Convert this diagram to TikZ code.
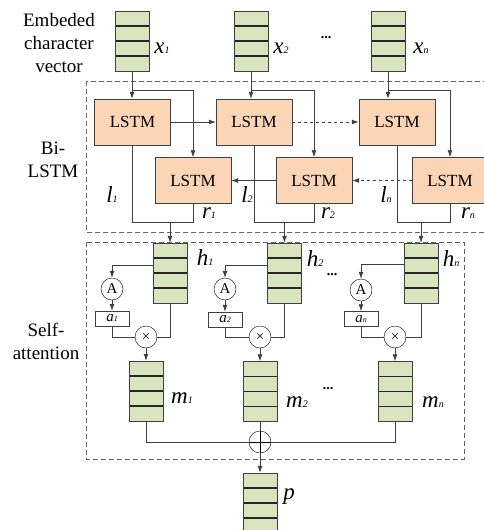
\documentclass[tikz,border=0pt]{standalone}
\usepackage{fontspec}
\setmainfont{Liberation Serif}
\usetikzlibrary{positioning}
\usetikzlibrary{calc}
\usetikzlibrary{arrows.meta}

\definecolor{vecgreen}{HTML}{D7E4BD}
\definecolor{lstmfill}{HTML}{FBD5B5}
\definecolor{edge}{HTML}{404040}

\newcommand{\vlab}[2]{{\fontsize{23}{23}\selectfont\itshape #1\fontsize{10}{10}\selectfont #2}}
\newcommand{\alab}[2]{{\fontsize{15}{15}\selectfont\itshape #1\fontsize{8}{8}\selectfont #2}}

\begin{document}
\begin{tikzpicture}[
    x=1pt,
    y=-1pt,
    >={Latex[length=7pt,width=5pt]},
    every node/.style={font=\fontsize{19}{23}\selectfont},
    vector/.style={
        draw=edge,
        fill=vecgreen,
        minimum width=34pt,
        minimum height=60pt,
        inner sep=0pt,
        path picture={
            \foreach \k in {1,2,3}
                \draw[line width=1.2pt, black!85]
                    ($(path picture bounding box.north west)!\k/4!(path picture bounding box.south west)$) --
                    ($(path picture bounding box.north east)!\k/4!(path picture bounding box.south east)$);
        }
    },
    lstm/.style={
        draw=edge,
        fill=lstmfill,
        minimum width=76pt,
        minimum height=46pt,
        inner sep=0pt,
        font=\fontsize{17}{17}\selectfont
    },
    attn/.style={
        circle,
        draw=black,
        fill=white,
        minimum size=22pt,
        inner sep=0pt,
        font=\fontsize{15}{15}\selectfont
    },
    plus/.style={
        attn,
        path picture={
            \draw (path picture bounding box.north) -- (path picture bounding box.south)
                  (path picture bounding box.west) -- (path picture bounding box.east);
        }
    },
    weight/.style={
        draw=edge,
        fill=white,
        minimum width=34pt,
        minimum height=15pt,
        inner sep=0pt
    },
    group/.style={draw=edge!80, dash pattern=on 5pt off 3pt, line width=0.8pt},
    line/.style={draw=edge, line width=0.8pt},
    arrow/.style={line, ->},
    dots/.style={font=\bfseries\fontsize{14}{14}\selectfont, inner sep=0pt}
]
\useasboundingbox (0,0) rectangle (484,530);

% Groups
\draw[group] (86,81) rectangle (492,232);
\draw[group] (86,242) rectangle (464,459);

\node (embed) at (59,43) [align=center] {Embeded\\character\\vector};
\node (bilstm) at (53,160) [align=center] {Bi-\\LSTM};
\node (selfatt) at (46,341) [align=center] {Self-\\attention};

% Input vectors
\node[vector] (x1) at (132,41) {};
\node[vector] (x2) at (251,41) {};
\node[vector] (xn) at (388,41) {};
\node (lx1) at (162,48) {\vlab{x}{1}};
\node (lx2) at (281,48) {\vlab{x}{2}};
\node (lxn) at (421,48) {\vlab{x}{n}};
\node[dots] (dtop) at (326,38) {...};

% Bi-LSTM
\node[lstm] (t1) at (132.5,122) {LSTM};
\node[lstm] (t2) at (254,122) {LSTM};
\node[lstm] (tn) at (397,122) {LSTM};
\node[lstm] (b1) at (193,180.5) {LSTM};
\node[lstm] (b2) at (314,180.5) {LSTM};
\node[lstm] (bn) at (450,180.5) {LSTM};

\coordinate (o1) at ($(b1.south)+(0,19)$);
\coordinate (o2) at ($(b2.south)+(0,19)$);
\coordinate (on) at ($(bn.south)+(0,19)$);

\node (ll1) at (112,195) {\vlab{l}{1}};
\node (lr1) at (209,213) {\vlab{r}{1}};
\node (ll2) at (247,195) {\vlab{l}{2}};
\node (lr2) at (328,213) {\vlab{r}{2}};
\node (lln) at (386,195) {\vlab{l}{n}};
\node (lrn) at (468,213) {\vlab{r}{n}};

% Self-attention
\node[vector] (h1) at (170,273) {};
\node[vector] (h2) at (284.5,273) {};
\node[vector] (hn) at (421,273) {};
\node (lh1) at (205,258) {\vlab{h}{1}};
\node (lh2) at (315,259) {\vlab{h}{2}};
\node (lhn) at (451,259) {\vlab{h}{n}};
\node[dots] (dmid) at (332,275) {...};

\node[attn] (A1) at (112,289) {A};
\node[attn] (A2) at (225,289) {A};
\node[attn] (An) at (361,290) {A};
\node[weight] (a1) at (112,318.5) {\alab{a}{1}};
\node[weight] (a2) at (225,319.5) {\alab{a}{2}};
\node[weight] (an) at (361,319) {\alab{a}{n}};
\node[attn] (X1) at (146,337) {×};
\node[attn] (X2) at (260,337) {×};
\node[attn] (Xn) at (395,337) {×};

\node[vector] (m1) at (146,391) {};
\node[vector] (m2) at (260,391.5) {};
\node[vector] (mn) at (395,391.5) {};
\node (lm1) at (182,398) {\vlab{m}{1}};
\node (lm2) at (297,402) {\vlab{m}{2}};
\node (lmn) at (433,402) {\vlab{m}{n}};
\node[dots] (dbot) at (328,389) {...};

\node[plus] (sum) at (260,442) {};
\node[vector] (p) at (260,503) {};
\node (lp) at (289,497) {\vlab{p}{}};

% Arrows
\draw[arrow] (x1.south) -- (x1.south |- t1.north);
\draw[arrow] (x2.south) -- (x2.south |- t2.north);
\draw[arrow] (xn.south) -- (xn.south |- tn.north);
\draw[arrow] ($(x1.south)+(0,19)$) -| (b1.north);
\draw[arrow] ($(x2.south)+(0,19)$) -| (b2.north);
\draw[arrow] ($(xn.south)+(0,19)$) -| (bn.north);

\draw[arrow] (t1) -- (t2);
\draw[arrow, dashed] (t2) -- (tn);
\draw[arrow, dashed] (bn) -- (b2);
\draw[arrow] (b2) -- (b1);

\draw[line] (t1.south) |- (o1) -- (b1.south);
\draw[line] (t2.south) |- (o2) -- (b2.south);
\draw[line] (tn.south) |- (on) -- (bn.south);
\draw[arrow] (h1.north |- o1) -- (h1.north);
\draw[arrow] (h2.north |- o2) -- (h2.north);
\draw[arrow] (hn.north |- on) -- (hn.north);

\draw[arrow] ($(h1.north west)+(0,23)$) -| (A1.north);
\draw[arrow] ($(h2.north west)+(0,23)$) -| (A2.north);
\draw[arrow] ($(hn.north west)+(0,22)$) -| (An.north);
\draw[arrow] (A1) -- (a1);
\draw[arrow] (A2) -- (a2);
\draw[arrow] (An) -- (an);
\draw[line] (a1.south) |- (X1.west);
\draw[line] (a2.south) |- (X2.west);
\draw[line] (an.south) |- (Xn.west);
\draw[line] (h1.south) |- (X1.east);
\draw[line] (h2.south) |- (X2.east);
\draw[line] (hn.south) |- (Xn.east);
\draw[arrow] (X1) -- (m1);
\draw[arrow] (X2) -- (m2);
\draw[arrow] (Xn) -- (mn);

\draw[line] (m1.south) |- (sum.west);
\draw[line] (m2.south) -- (sum.north);
\draw[line] (mn.south) |- (sum.east);
\draw[arrow] (sum) -- (p);

\end{tikzpicture}
\end{document}
